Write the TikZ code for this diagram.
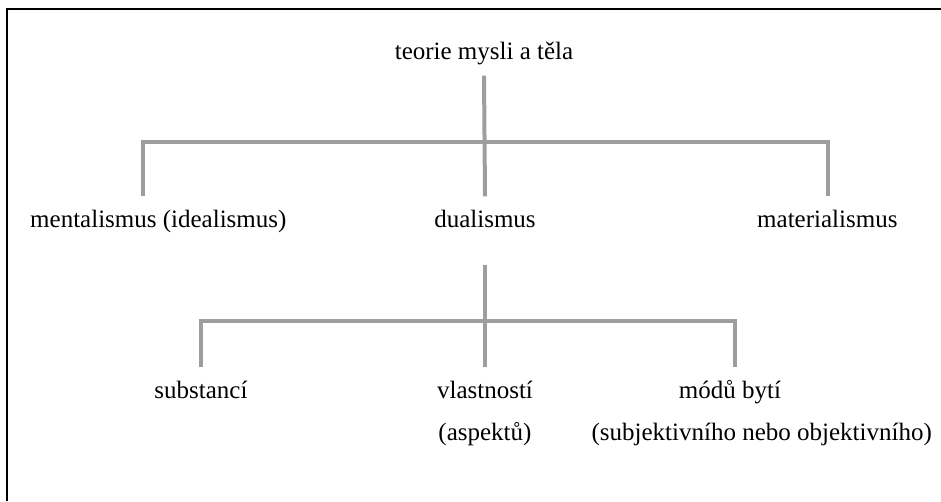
\documentclass[tikz,border=0pt]{standalone}
\usepackage{fontspec}
\setmainfont{Liberation Serif}
\usetikzlibrary{calc}
\begin{document}
\begin{tikzpicture}[x=1pt,y=-1pt,
  lbl/.style={inner sep=0pt, font=\fontsize{25}{30}\selectfont},
  bar/.style={draw=black!38, line width=4pt},
  framel/.style={draw=black, line width=1.6pt}]
\useasboundingbox (0,0) rectangle (941,501);
\draw[framel] (941,9) -- (7,9) -- (7,501);
% nodes
\node[lbl, anchor=base] (title) at (484,59) {teorie mysli a těla};
\node[lbl, anchor=base west] (ment) at (30,227) {mentalismus (idealismus)};
\node[lbl, anchor=base] (dual) at (485,227) {dualismus};
\node[lbl, anchor=base west] (mat) at (757,227) {materialismus};
\node[lbl, anchor=base] (subst) at (201,398) {substancí};
\node[lbl, anchor=base] (vlast) at (485,398) {vlastností};
\node[lbl, anchor=base] (aspekt) at (485,440) {(aspektů)};
\node[lbl, anchor=base] (modu) at (730,398) {módů bytí};
\node[lbl, anchor=base east] (subj) at (932,440) {(subjektivního nebo objektivního)};
% junctions
\coordinate (b1l) at (143,142);
\coordinate (b1r) at (828,142);
\coordinate (b2l) at (201,321);
\coordinate (b2r) at (735,321);
% level 1
\draw[bar] ($(title.south)+(0,11)$) -- ($(dual.north)+(0,-13)$);
\draw[bar] ($(b1l |- ment.north)+(0,-13)$) -- (b1l) -- (b1r) -- ($(b1r |- mat.north)+(0,-13)$);
% level 2
\draw[bar] ($(dual.south)+(0,38)$) -- ($(vlast.north)+(0,-13)$);
\draw[bar] ($(b2l |- subst.north)+(0,-13)$) -- (b2l) -- (b2r) -- ($(b2r |- modu.north)+(0,-13)$);
\end{tikzpicture}
\end{document}
